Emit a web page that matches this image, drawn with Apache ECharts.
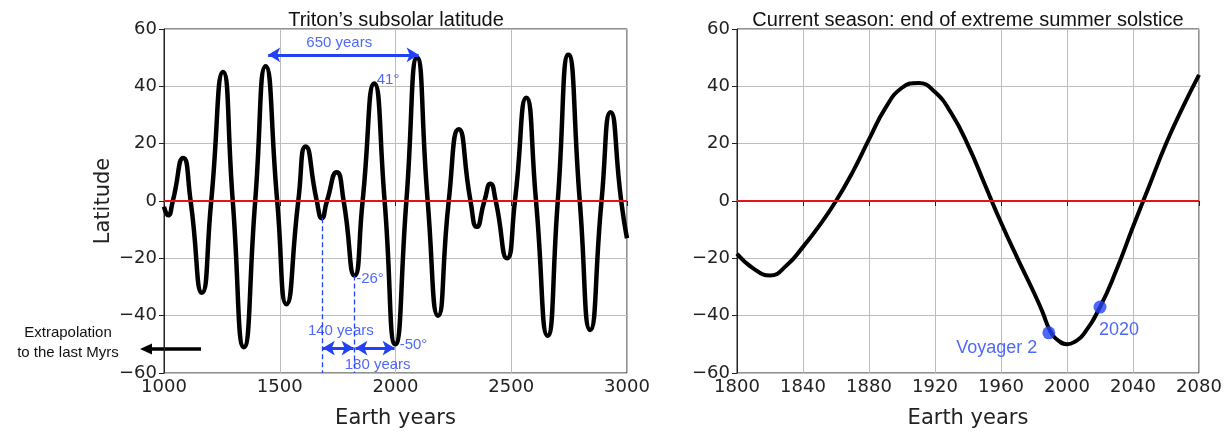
<!DOCTYPE html>
<html>
<head>
<meta charset="utf-8">
<script src="https://cdn.jsdelivr.net/npm/echarts@6/dist/echarts.min.js"></script>
<style>
    html, body { margin: 0; padding: 0; background: #fff; }
    #chart { width: 1231px; height: 434px; }
</style>
</head>
<body>
<div id="chart"></div>
<script>
'use strict';

//============= 数据 =============
// 左图: 海卫一日下点纬度 (1000-3000)
const longYears = [1000, 1018, 1038, 1083, 1115, 1164, 1204, 1255, 1297, 1345,
    1394, 1439, 1489, 1529, 1580, 1612, 1660, 1682, 1704, 1746,
    1776, 1823, 1858, 1908, 1953, 1999, 2047, 2093, 2139, 2184,
    2230, 2273, 2324, 2351, 2384, 2410, 2433, 2482, 2516, 2565,
    2607, 2657, 2701, 2747, 2796, 2841, 2890, 2929, 2975, 3000];
const longLat = [-2, -5, 0, 15, 0, -32, 0, 45, 0, -51,
    0, 47, 0, -36, 0, 19, 0, -6, 0, 10,
    0, -26, 0, 41, 0, -50, 0, 50, 0, -40,
    0, 25, 0, -9, 0, 6, 0, -20, 0, 36,
    0, -47, 0, 51, 0, -45, 0, 31, 0, -13];

// 右图: 1800-2080 放大
const nearYears = [1800, 1810, 1820, 1830, 1840, 1850, 1860, 1870, 1880, 1890,
    1900, 1910, 1920, 1930, 1940, 1950, 1960, 1970, 1980, 1985,
    1990, 1995, 2000, 2005, 2010, 2020, 2030, 2040, 2050, 2060,
    2070, 2080];
const nearLat = [-18.4, -23.6, -26, -22.5, -16, -8.5, 0, 10, 21.5, 32.5,
    39.5, 41.2, 38, 30.5, 19.5, 6, -7.5, -20, -32, -38.5,
    -45.5, -48.8, -50, -49, -46.5, -37, -24, -9, 5.5, 20,
    32.5, 44];

// 标记点
const eventNames = ['Voyager 2', '2020'];
const eventYears = [1989, 2020];
const eventLat = [-46, -37];

// 坐标轴
const longRange = [1000, 3000];
const nearRange = [1800, 2080];
const latRange = [-60, 60];

// 左图注释
const spanArrows = [
    { from: [1450, 51], to: [2100, 51] },
    { from: [1686, -51.3], to: [1819, -51.3] },
    { from: [1827, -51.3], to: [1996, -51.3] }
];
const dashedLines = [
    { from: [1682, -6], to: [1682, -60] },
    { from: [1823, -26], to: [1823, -60] }
];
const noteTexts = [
    { text: '650 years', pos: [1757, 55], align: 'center' },
    { text: '41°', pos: [1919, 42.4], align: 'left' },
    { text: '-26°', pos: [1830, -27.1], align: 'left' },
    { text: '140 years', pos: [1764, -45.2], align: 'center' },
    { text: '180 years', pos: [1923, -57.3], align: 'center' },
    { text: '-50°', pos: [2018, -50.2], align: 'left' }
];

const blue = '#2342f5';
const tickFont = 'DejaVu Sans';
const noteFont = 'Liberation Sans';

function zip(xs, ys) {
    return xs.map(function(x, i) { return [x, ys[i]]; });
}

function minusFmt(v) {
    return v < 0 ? '\u2212' + Math.abs(v) : String(v);
}

function xAxisOf(idx, range, interval) {
    return {
        type: 'value',
        gridIndex: idx,
        min: range[0],
        max: range[1],
        interval: interval,
        name: 'Earth years',
        nameLocation: 'middle',
        nameGap: 35,
        nameTextStyle: { fontFamily: tickFont, fontSize: 21, color: '#222' },
        axisLine: { show: true, lineStyle: { color: '#222', width: 1 } },
        axisTick: { show: true, length: 5, lineStyle: { color: '#222' } },
        axisLabel: { fontFamily: tickFont, fontSize: 18, color: '#222', margin: 5, formatter: function(v) { return String(v); } },
        splitLine: { show: true, lineStyle: { color: '#bdbdbd', width: 1 } }
    };
}

function yAxisOf(idx, withName) {
    return {
        type: 'value',
        gridIndex: idx,
        min: latRange[0],
        max: latRange[1],
        interval: 20,
        name: withName ? 'Latitude' : '',
        nameLocation: 'middle',
        nameGap: 50,
        nameTextStyle: { fontFamily: tickFont, fontSize: 21, color: '#222' },
        axisLine: { show: true, lineStyle: { color: '#222', width: 1 } },
        axisTick: { show: true, length: 5, lineStyle: { color: '#222' } },
        axisLabel: { fontFamily: tickFont, fontSize: 18, color: '#222', margin: 7, formatter: minusFmt },
        splitLine: { show: true, lineStyle: { color: '#bdbdbd', width: 1 } }
    };
}

let myChart = echarts.init(document.getElementById('chart'));

//============= 配置 =============
let option = {
    animation: false,
    backgroundColor: '#fff',
    grid: [
        { left: 164, right: 604, top: 29, bottom: 59, show: true, borderColor: '#222', borderWidth: 1 },
        { left: 737, right: 32, top: 29, bottom: 59, show: true, borderColor: '#222', borderWidth: 1 }
    ],
    xAxis: [xAxisOf(0, longRange, 500), xAxisOf(1, nearRange, 40)],
    yAxis: [yAxisOf(0, true), yAxisOf(1, false)],
    graphic: [
        {
            type: 'text', x: 396, y: 20,
            style: { text: 'Triton\u2019s subsolar latitude', fontFamily: noteFont, fontSize: 20, fill: '#111', textAlign: 'center', textVerticalAlign: 'middle' }
        },
        {
            type: 'text', x: 968, y: 20,
            style: { text: 'Current season: end of extreme summer solstice', fontFamily: noteFont, fontSize: 20, fill: '#111', textAlign: 'center', textVerticalAlign: 'middle' }
        },
        {
            type: 'text', x: 68, y: 343,
            style: { text: 'Extrapolation\nto the last Myrs', fontFamily: noteFont, fontSize: 15, lineHeight: 20, fill: '#111', textAlign: 'center', textVerticalAlign: 'middle' }
        },
        {
            type: 'line',
            shape: { x1: 201, y1: 349, x2: 150, y2: 349 },
            style: { stroke: '#000', lineWidth: 3.5 }
        },
        {
            type: 'polygon',
            shape: { points: [[140, 349], [152, 343.5], [152, 354.5]] },
            style: { fill: '#000' }
        }
    ],
    series: [
        {
            type: 'line',
            xAxisIndex: 0,
            yAxisIndex: 0,
            data: zip(longYears, longLat),
            smooth: 0.6,
            showSymbol: false,
            lineStyle: { color: '#000', width: 4.5 },
            z: 3
        },
        {
            type: 'line',
            xAxisIndex: 0,
            yAxisIndex: 0,
            data: [[longRange[0], 0], [longRange[1], 0]],
            showSymbol: false,
            lineStyle: { color: '#e3121b', width: 2 },
            z: 4
        },
        {
            // 注释: 箭头 虚线 文字
            type: 'scatter',
            xAxisIndex: 0,
            yAxisIndex: 0,
            symbolSize: 0,
            data: noteTexts.map(function(n) {
                return {
                    value: n.pos,
                    label: {
                        show: true,
                        position: 'inside',
                        align: n.align,
                        formatter: n.text,
                        fontFamily: noteFont,
                        fontSize: 15,
                        color: blue
                    }
                };
            }),
            markLine: {
                silent: true,
                animation: false,
                label: { show: false },
                data: spanArrows.map(function(a) {
                    return [
                        { coord: a.from, symbol: 'arrow', symbolSize: [11, 12], lineStyle: { color: blue, width: 3, type: 'solid' } },
                        { coord: a.to, symbol: 'arrow', symbolSize: [11, 12] }
                    ];
                }).concat(dashedLines.map(function(d) {
                    return [
                        { coord: d.from, symbol: 'none', lineStyle: { color: blue, width: 1.3, type: [5, 3] } },
                        { coord: d.to, symbol: 'none' }
                    ];
                }))
            },
            z: 5
        },
        {
            type: 'line',
            xAxisIndex: 1,
            yAxisIndex: 1,
            data: zip(nearYears, nearLat),
            smooth: true,
            showSymbol: false,
            lineStyle: { color: '#000', width: 4 },
            z: 3
        },
        {
            type: 'line',
            xAxisIndex: 1,
            yAxisIndex: 1,
            data: [[nearRange[0], 0], [nearRange[1], 0]],
            showSymbol: false,
            lineStyle: { color: '#e3121b', width: 2 },
            z: 4
        },
        {
            type: 'scatter',
            xAxisIndex: 1,
            yAxisIndex: 1,
            symbolSize: 13,
            itemStyle: { color: blue },
            data: eventNames.map(function(name, i) {
                return {
                    name: name,
                    value: [eventYears[i], eventLat[i]],
                    label: i === 0
                        ? { show: true, position: 'left', distance: 5, offset: [0, 15] }
                        : { show: true, position: 'bottom', distance: 4, offset: [19, 3] }
                };
            }),
            label: {
                formatter: '{b}',
                fontFamily: noteFont,
                fontSize: 18,
                color: blue
            },
            z: 6
        }
    ]
};

myChart.setOption(option);
</script>
</body>
</html>
